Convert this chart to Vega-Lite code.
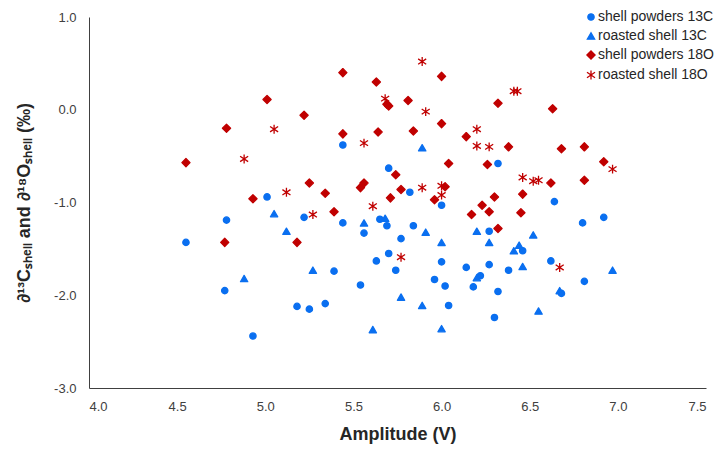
{
  "$schema": "https://vega.github.io/schema/vega-lite/v6.json",
  "width": 617,
  "height": 371,
  "autosize": {"type": "none"},
  "padding": {"left": 89, "top": 17, "right": 11, "bottom": 62},
  "background": "white",
  "config": {
    "view": {"stroke": null},
    "font": "Liberation Sans",
    "axis": {
      "grid": false,
      "ticks": false,
      "domainColor": "#404040",
      "domainWidth": 1,
      "labelFont": "Liberation Sans",
      "labelFontSize": 13,
      "labelColor": "#404040",
      "titleFont": "Liberation Sans",
      "titleFontSize": 18,
      "titleFontWeight": "bold",
      "titleColor": "#262626"
    }
  },
  "data": {
    "values": [
      {"series": "shell powders 13C", "amp": 5.44, "d": -0.38},
      {"series": "shell powders 13C", "amp": 5.70, "d": -0.63},
      {"series": "shell powders 13C", "amp": 5.01, "d": -0.94},
      {"series": "shell powders 13C", "amp": 5.82, "d": -0.89},
      {"series": "shell powders 13C", "amp": 5.22, "d": -1.16},
      {"series": "shell powders 13C", "amp": 4.78, "d": -1.19},
      {"series": "shell powders 13C", "amp": 5.44, "d": -1.22},
      {"series": "shell powders 13C", "amp": 5.56, "d": -1.33},
      {"series": "shell powders 13C", "amp": 5.65, "d": -1.18},
      {"series": "shell powders 13C", "amp": 5.69, "d": -1.25},
      {"series": "shell powders 13C", "amp": 5.77, "d": -1.39},
      {"series": "shell powders 13C", "amp": 4.55, "d": -1.43},
      {"series": "shell powders 13C", "amp": 5.70, "d": -1.55},
      {"series": "shell powders 13C", "amp": 5.63, "d": -1.63},
      {"series": "shell powders 13C", "amp": 5.74, "d": -1.73},
      {"series": "shell powders 13C", "amp": 5.39, "d": -1.74},
      {"series": "shell powders 13C", "amp": 5.54, "d": -1.89},
      {"series": "shell powders 13C", "amp": 4.77, "d": -1.95},
      {"series": "shell powders 13C", "amp": 5.34, "d": -2.09},
      {"series": "shell powders 13C", "amp": 5.18, "d": -2.12},
      {"series": "shell powders 13C", "amp": 5.25, "d": -2.15},
      {"series": "shell powders 13C", "amp": 4.93, "d": -2.44},
      {"series": "shell powders 13C", "amp": 6.32, "d": -0.58},
      {"series": "shell powders 13C", "amp": 6.64, "d": -0.99},
      {"series": "shell powders 13C", "amp": 6.00, "d": -1.03},
      {"series": "shell powders 13C", "amp": 6.80, "d": -1.22},
      {"series": "shell powders 13C", "amp": 6.92, "d": -1.16},
      {"series": "shell powders 13C", "amp": 5.84, "d": -1.25},
      {"series": "shell powders 13C", "amp": 6.27, "d": -1.31},
      {"series": "shell powders 13C", "amp": 6.46, "d": -1.52},
      {"series": "shell powders 13C", "amp": 6.00, "d": -1.64},
      {"series": "shell powders 13C", "amp": 6.14, "d": -1.70},
      {"series": "shell powders 13C", "amp": 6.27, "d": -1.67},
      {"series": "shell powders 13C", "amp": 6.38, "d": -1.73},
      {"series": "shell powders 13C", "amp": 6.62, "d": -1.63},
      {"series": "shell powders 13C", "amp": 5.96, "d": -1.83},
      {"series": "shell powders 13C", "amp": 6.02, "d": -1.90},
      {"series": "shell powders 13C", "amp": 6.22, "d": -1.79},
      {"series": "shell powders 13C", "amp": 6.18, "d": -1.91},
      {"series": "shell powders 13C", "amp": 6.32, "d": -1.96},
      {"series": "shell powders 13C", "amp": 6.81, "d": -1.85},
      {"series": "shell powders 13C", "amp": 6.68, "d": -1.98},
      {"series": "shell powders 13C", "amp": 6.04, "d": -2.11},
      {"series": "shell powders 13C", "amp": 6.30, "d": -2.24},
      {"series": "roasted shell 13C", "amp": 5.89, "d": -0.41},
      {"series": "roasted shell 13C", "amp": 5.05, "d": -1.12},
      {"series": "roasted shell 13C", "amp": 5.56, "d": -1.22},
      {"series": "roasted shell 13C", "amp": 5.12, "d": -1.31},
      {"series": "roasted shell 13C", "amp": 5.68, "d": -1.17},
      {"series": "roasted shell 13C", "amp": 5.27, "d": -1.73},
      {"series": "roasted shell 13C", "amp": 4.88, "d": -1.82},
      {"series": "roasted shell 13C", "amp": 5.77, "d": -2.02},
      {"series": "roasted shell 13C", "amp": 5.61, "d": -2.37},
      {"series": "roasted shell 13C", "amp": 5.91, "d": -1.32},
      {"series": "roasted shell 13C", "amp": 6.00, "d": -1.43},
      {"series": "roasted shell 13C", "amp": 6.20, "d": -1.31},
      {"series": "roasted shell 13C", "amp": 6.27, "d": -1.43},
      {"series": "roasted shell 13C", "amp": 6.52, "d": -1.35},
      {"series": "roasted shell 13C", "amp": 6.44, "d": -1.46},
      {"series": "roasted shell 13C", "amp": 6.41, "d": -1.52},
      {"series": "roasted shell 13C", "amp": 6.46, "d": -1.69},
      {"series": "roasted shell 13C", "amp": 6.97, "d": -1.73},
      {"series": "roasted shell 13C", "amp": 6.20, "d": -1.81},
      {"series": "roasted shell 13C", "amp": 6.67, "d": -1.95},
      {"series": "roasted shell 13C", "amp": 5.89, "d": -2.11},
      {"series": "roasted shell 13C", "amp": 6.55, "d": -2.17},
      {"series": "roasted shell 13C", "amp": 6.00, "d": -2.36},
      {"series": "shell powders 18O", "amp": 5.44, "d": 0.40},
      {"series": "shell powders 18O", "amp": 5.63, "d": 0.30},
      {"series": "shell powders 18O", "amp": 5.01, "d": 0.11},
      {"series": "shell powders 18O", "amp": 5.69, "d": 0.06},
      {"series": "shell powders 18O", "amp": 5.70, "d": 0.04},
      {"series": "shell powders 18O", "amp": 5.81, "d": 0.10},
      {"series": "shell powders 18O", "amp": 5.22, "d": -0.06},
      {"series": "shell powders 18O", "amp": 4.78, "d": -0.20},
      {"series": "shell powders 18O", "amp": 5.44, "d": -0.26},
      {"series": "shell powders 18O", "amp": 5.64, "d": -0.24},
      {"series": "shell powders 18O", "amp": 4.55, "d": -0.57},
      {"series": "shell powders 18O", "amp": 5.74, "d": -0.70},
      {"series": "shell powders 18O", "amp": 5.25, "d": -0.79},
      {"series": "shell powders 18O", "amp": 5.34, "d": -0.90},
      {"series": "shell powders 18O", "amp": 5.56, "d": -0.79},
      {"series": "shell powders 18O", "amp": 5.54, "d": -0.84},
      {"series": "shell powders 18O", "amp": 5.77, "d": -0.86},
      {"series": "shell powders 18O", "amp": 5.71, "d": -0.95},
      {"series": "shell powders 18O", "amp": 4.93, "d": -0.96},
      {"series": "shell powders 18O", "amp": 5.84, "d": -0.23},
      {"series": "shell powders 18O", "amp": 5.39, "d": -1.10},
      {"series": "shell powders 18O", "amp": 4.77, "d": -1.43},
      {"series": "shell powders 18O", "amp": 5.18, "d": -1.43},
      {"series": "shell powders 18O", "amp": 6.00, "d": 0.36},
      {"series": "shell powders 18O", "amp": 6.32, "d": 0.07},
      {"series": "shell powders 18O", "amp": 6.63, "d": 0.01},
      {"series": "shell powders 18O", "amp": 6.00, "d": -0.15},
      {"series": "shell powders 18O", "amp": 6.14, "d": -0.29},
      {"series": "shell powders 18O", "amp": 6.38, "d": -0.40},
      {"series": "shell powders 18O", "amp": 6.68, "d": -0.42},
      {"series": "shell powders 18O", "amp": 6.81, "d": -0.40},
      {"series": "shell powders 18O", "amp": 6.04, "d": -0.58},
      {"series": "shell powders 18O", "amp": 6.26, "d": -0.59},
      {"series": "shell powders 18O", "amp": 6.92, "d": -0.56},
      {"series": "shell powders 18O", "amp": 6.62, "d": -0.79},
      {"series": "shell powders 18O", "amp": 6.81, "d": -0.76},
      {"series": "shell powders 18O", "amp": 6.02, "d": -0.83},
      {"series": "shell powders 18O", "amp": 5.96, "d": -0.97},
      {"series": "shell powders 18O", "amp": 6.30, "d": -0.94},
      {"series": "shell powders 18O", "amp": 6.46, "d": -0.91},
      {"series": "shell powders 18O", "amp": 6.23, "d": -1.03},
      {"series": "shell powders 18O", "amp": 6.27, "d": -1.10},
      {"series": "shell powders 18O", "amp": 6.17, "d": -1.13},
      {"series": "shell powders 18O", "amp": 6.45, "d": -1.11},
      {"series": "shell powders 18O", "amp": 6.32, "d": -1.28},
      {"series": "roasted shell 18O", "amp": 5.89, "d": 0.52},
      {"series": "roasted shell 18O", "amp": 6.41, "d": 0.20},
      {"series": "roasted shell 18O", "amp": 6.43, "d": 0.20},
      {"series": "roasted shell 18O", "amp": 5.68, "d": 0.12},
      {"series": "roasted shell 18O", "amp": 5.91, "d": -0.02},
      {"series": "roasted shell 18O", "amp": 5.05, "d": -0.21},
      {"series": "roasted shell 18O", "amp": 6.20, "d": -0.21},
      {"series": "roasted shell 18O", "amp": 5.56, "d": -0.36},
      {"series": "roasted shell 18O", "amp": 6.20, "d": -0.39},
      {"series": "roasted shell 18O", "amp": 6.27, "d": -0.40},
      {"series": "roasted shell 18O", "amp": 4.88, "d": -0.53},
      {"series": "roasted shell 18O", "amp": 6.97, "d": -0.64},
      {"series": "roasted shell 18O", "amp": 6.46, "d": -0.73},
      {"series": "roasted shell 18O", "amp": 6.52, "d": -0.77},
      {"series": "roasted shell 18O", "amp": 6.55, "d": -0.76},
      {"series": "roasted shell 18O", "amp": 5.12, "d": -0.89},
      {"series": "roasted shell 18O", "amp": 5.89, "d": -0.84},
      {"series": "roasted shell 18O", "amp": 6.00, "d": -0.82},
      {"series": "roasted shell 18O", "amp": 6.00, "d": -0.92},
      {"series": "roasted shell 18O", "amp": 5.61, "d": -1.04},
      {"series": "roasted shell 18O", "amp": 5.27, "d": -1.13},
      {"series": "roasted shell 18O", "amp": 5.77, "d": -1.59},
      {"series": "roasted shell 18O", "amp": 6.67, "d": -1.70}
    ]
  },
  "mark": {"type": "point", "filled": true, "opacity": 1, "strokeWidth": 1.3, "strokeJoin": "round"},
  "encoding": {
    "x": {
      "field": "amp",
      "type": "quantitative",
      "scale": {"domain": [4, 7.5], "nice": false, "zero": false},
      "axis": {
        "values": [4, 4.5, 5, 5.5, 6, 6.5, 7, 7.5],
        "format": ".1f",
        "labelPadding": 12,
        "title": "Amplitude (V)",
        "titlePadding": 12
      }
    },
    "y": {
      "field": "d",
      "type": "quantitative",
      "scale": {"domain": [-3, 1], "nice": false, "zero": false},
      "axis": {
        "values": [-3, -2, -1, 0, 1],
        "labelExpr": "replace(format(datum.value, '.1f'), '\u2212', '-')",
        "labelPadding": 13,
        "title": "∂¹³Cₛₕₑₗₗ and ∂¹⁸Oₛₕₑₗₗ (‰)",
        "titlePadding": 20
      }
    },
    "color": {
      "field": "series",
      "type": "nominal",
      "title": null,
      "scale": {
        "domain": ["shell powders 13C", "roasted shell 13C", "shell powders 18O", "roasted shell 18O"],
        "range": ["#0A6FF0", "#0A6FF0", "#C00000", "#C00000"]
      },
      "legend": {
        "orient": "none",
        "legendX": 495,
        "legendY": -7,
        "padding": 0,
        "labelFont": "Liberation Sans",
        "labelFontSize": 14,
        "labelColor": "#262626",
        "symbolSize": 36,
        "symbolStrokeWidth": 1.3,
        "labelOffset": 0,
        "rowPadding": 5
      }
    },
    "stroke": {
      "field": "series",
      "type": "nominal",
      "title": null,
      "scale": {
        "domain": ["shell powders 13C", "roasted shell 13C", "shell powders 18O", "roasted shell 18O"],
        "range": ["#0A6FF0", "#0A6FF0", "#C00000", "#C00000"]
      }
    },
    "shape": {
      "field": "series",
      "type": "nominal",
      "title": null,
      "scale": {
        "domain": ["shell powders 13C", "roasted shell 13C", "shell powders 18O", "roasted shell 18O"],
        "range": ["circle", "triangle-up", "diamond", "M0,-1L0,1M-0.9,-0.6L0.9,0.6M-0.9,0.6L0.9,-0.6"]
      }
    },
    "size": {
      "field": "series",
      "type": "nominal",
      "scale": {
        "domain": ["shell powders 13C", "roasted shell 13C", "shell powders 18O", "roasted shell 18O"],
        "range": [40, 80, 75, 90]
      },
      "legend": null
    }
  }
}
